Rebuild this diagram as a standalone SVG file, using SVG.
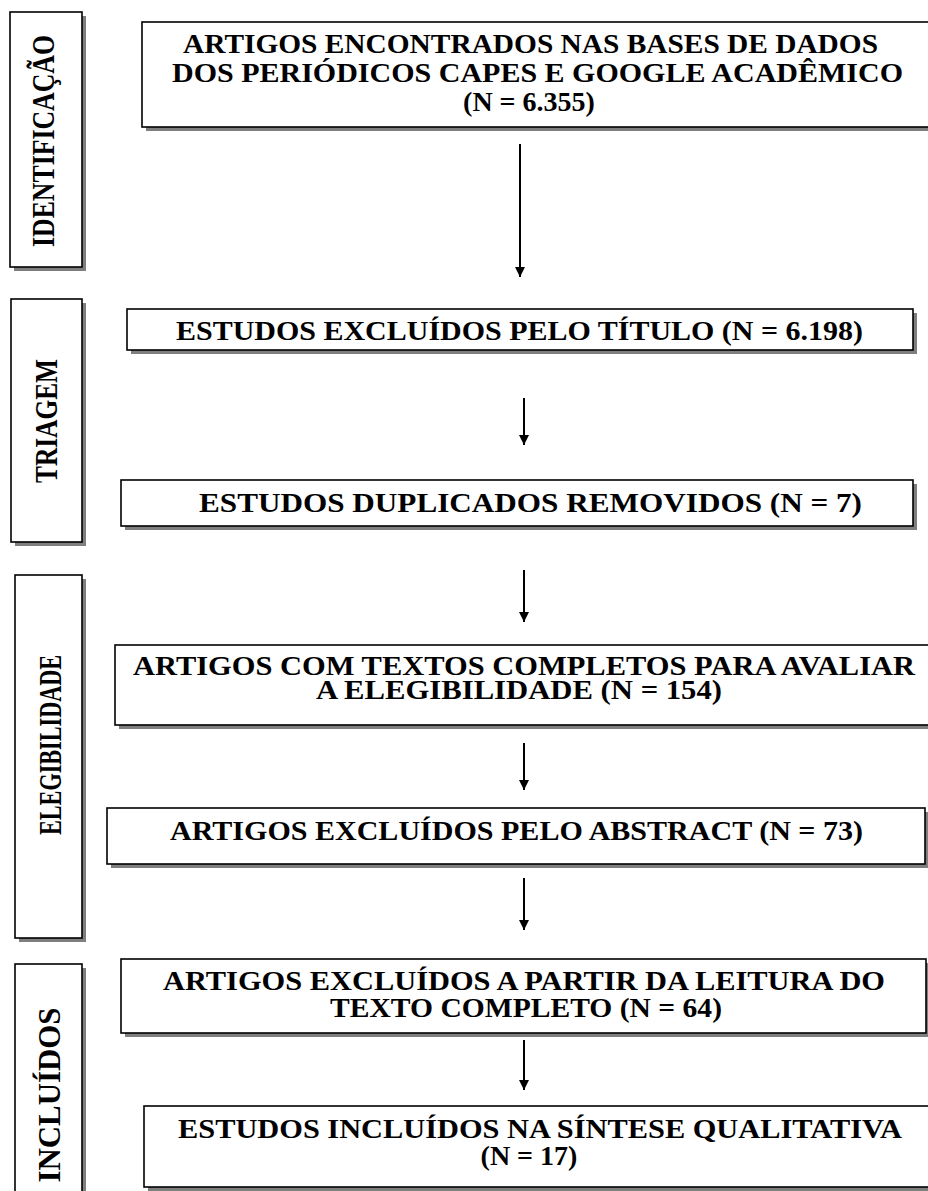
<svg xmlns="http://www.w3.org/2000/svg" width="928" height="1191" viewBox="0 0 928 1191">
<style>
.box{fill:#fff;stroke:#000;stroke-width:1.6}
.sh{fill:#7f7f7f}
.t{font-family:"Liberation Serif","Times New Roman",serif;font-weight:bold;font-size:28px;fill:#000}
.c{text-anchor:middle}
.s{font-family:"Liberation Serif","Times New Roman",serif;font-weight:bold;font-size:32px;fill:#000;text-anchor:middle}
.ar{stroke:#000;stroke-width:2;fill:none}
</style>
<defs>
<marker id="ah" viewBox="0 0 10 10" refX="10" refY="5" markerWidth="10" markerHeight="12" markerUnits="userSpaceOnUse" orient="auto">
<path d="M0,0 L10,5 L0,10 Z" fill="#000"/>
</marker>
</defs>
<g id="side-identificacao">
<rect class="sh" x="14" y="16" width="72" height="255"/>
<rect class="box" x="10" y="12" width="72" height="255"/>
<text class="s" transform="translate(54,141) rotate(-90)" textLength="212" lengthAdjust="spacingAndGlyphs">IDENTIFICAÇÃO</text>
</g>
<g id="side-triagem">
<rect class="sh" x="15" y="303" width="71" height="243"/>
<rect class="box" x="11" y="299" width="71" height="243"/>
<text class="s" transform="translate(57,421) rotate(-90)" textLength="124" lengthAdjust="spacingAndGlyphs">TRIAGEM</text>
</g>
<g id="side-elegibilidade">
<rect class="sh" x="19" y="579" width="67" height="363"/>
<rect class="box" x="15" y="575" width="67" height="363"/>
<text class="s" transform="translate(61,745) rotate(-90)" textLength="180" lengthAdjust="spacingAndGlyphs">ELEGIBILIDADE</text>
</g>
<g id="side-incluidos">
<rect class="sh" x="19" y="968" width="67" height="240"/>
<rect class="box" x="15" y="964" width="67" height="240"/>
<text class="s" transform="translate(60,1095) rotate(-90)" textLength="175" lengthAdjust="spacingAndGlyphs">INCLUÍDOS</text>
</g>
<g id="n1">
<rect class="sh" x="146" y="26" width="800" height="105"/>
<rect class="box" x="142" y="22" width="800" height="105"/>
<text class="t" x="183" y="53" textLength="695" lengthAdjust="spacingAndGlyphs">ARTIGOS ENCONTRADOS NAS BASES DE DADOS</text>
<text class="t" x="172" y="82" textLength="731" lengthAdjust="spacingAndGlyphs">DOS PERIÓDICOS CAPES E GOOGLE ACADÊMICO</text>
<text class="t c" x="529" y="111">(N = 6.355)</text>
</g>
<g id="n2">
<rect class="sh" x="131" y="313" width="786" height="41"/>
<rect class="box" x="127" y="309" width="786" height="41"/>
<text class="t" x="176" y="340" textLength="687" lengthAdjust="spacingAndGlyphs">ESTUDOS EXCLUÍDOS PELO TÍTULO (N = 6.198)</text>
</g>
<g id="n3">
<rect class="sh" x="125" y="484" width="792" height="46"/>
<rect class="box" x="121" y="480" width="792" height="46"/>
<text class="t" x="199" y="512" textLength="663" lengthAdjust="spacingAndGlyphs">ESTUDOS DUPLICADOS REMOVIDOS (N = 7)</text>
</g>
<g id="n4">
<rect class="sh" x="119" y="649" width="830" height="80"/>
<rect class="box" x="115" y="645" width="830" height="80"/>
<text class="t" x="133" y="675" textLength="782" lengthAdjust="spacingAndGlyphs">ARTIGOS COM TEXTOS COMPLETOS PARA AVALIAR</text>
<text class="t" x="316" y="699" textLength="406" lengthAdjust="spacingAndGlyphs">A ELEGIBILIDADE (N = 154)</text>
</g>
<g id="n5">
<rect class="sh" x="111" y="812" width="818" height="56"/>
<rect class="box" x="107" y="808" width="818" height="56"/>
<text class="t" x="170" y="840" textLength="693" lengthAdjust="spacingAndGlyphs">ARTIGOS EXCLUÍDOS PELO ABSTRACT (N = 73)</text>
</g>
<g id="n6">
<rect class="sh" x="125" y="963" width="805" height="74"/>
<rect class="box" x="121" y="959" width="805" height="74"/>
<text class="t" x="163" y="990" textLength="722" lengthAdjust="spacingAndGlyphs">ARTIGOS EXCLUÍDOS A PARTIR DA LEITURA DO</text>
<text class="t" x="330" y="1017" textLength="392" lengthAdjust="spacingAndGlyphs">TEXTO COMPLETO (N = 64)</text>
</g>
<g id="n7">
<rect class="sh" x="148" y="1110" width="800" height="81"/>
<rect class="box" x="144" y="1106" width="800" height="81"/>
<text class="t" x="178" y="1138" textLength="724" lengthAdjust="spacingAndGlyphs">ESTUDOS INCLUÍDOS NA SÍNTESE QUALITATIVA</text>
<text class="t c" x="529" y="1165">(N = 17)</text>
</g>
<g id="connectors">
<line class="ar" x1="520" y1="144" x2="520" y2="277" marker-end="url(#ah)"/>
<line class="ar" x1="524" y1="398" x2="524" y2="445" marker-end="url(#ah)"/>
<line class="ar" x1="524" y1="570" x2="524" y2="622" marker-end="url(#ah)"/>
<line class="ar" x1="524" y1="743" x2="524" y2="790" marker-end="url(#ah)"/>
<line class="ar" x1="524" y1="878" x2="524" y2="930" marker-end="url(#ah)"/>
<line class="ar" x1="524" y1="1040" x2="524" y2="1090" marker-end="url(#ah)"/>
</g>
</svg>
